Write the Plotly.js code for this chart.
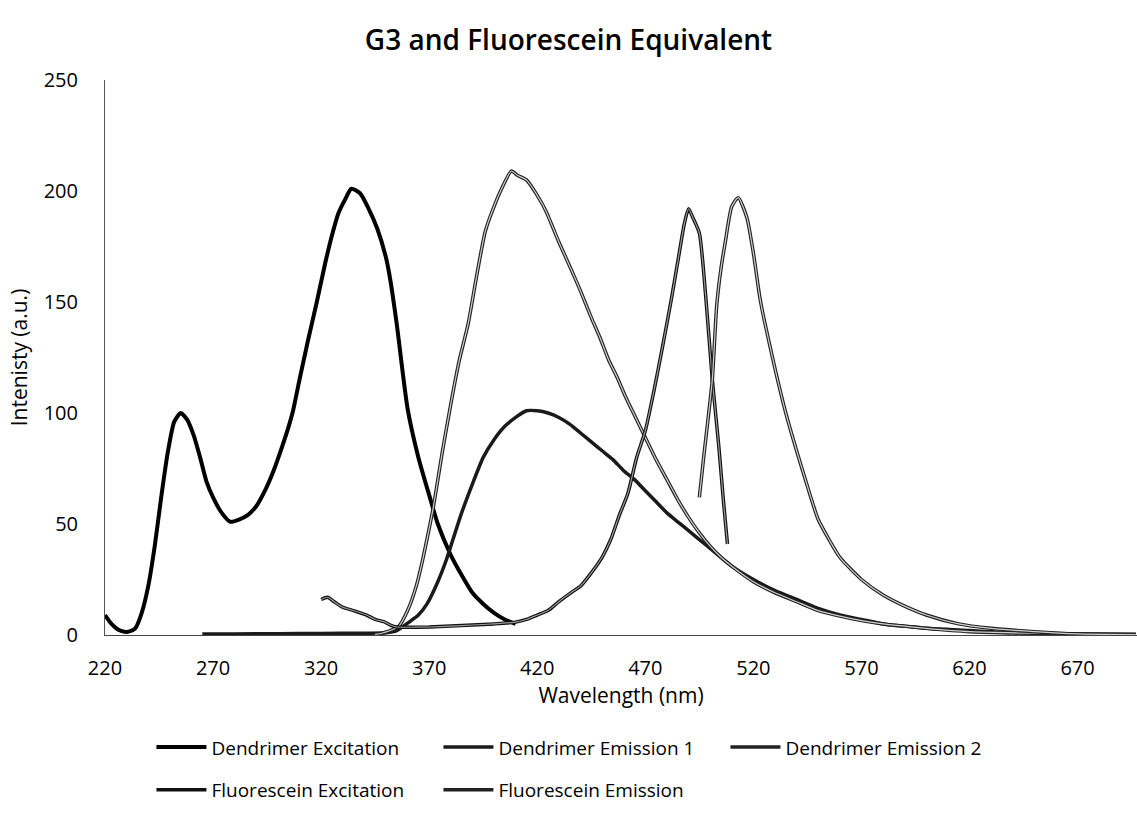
<!DOCTYPE html>
<html>
<head>
<meta charset="utf-8">
<script src="https://cdn.plot.ly/plotly-3.0.1.min.js"></script>
<style>html,body{margin:0;padding:0;background:#fff;}#chart{width:1137px;height:829px;}</style>
</head>
<body>
<div id="chart"></div>
<script>
// Dendrimer Excitation
const dexX = [220,223,226,229,231,234,237,240,243,246,249,252,255,258,261,264,267,270,274,278,282,286,290,294,298,302,305,307,310,314,318,322,325,328,331,334,338,342,346,350,352,355,360,365,370,374,380,385,390,395,400,405,410];
const dexY = [9,5,2.5,1.5,1.5,3,10,22,40,62,82,96,100,97,90,80,69,62,55,51,52,54,58,65,74,85,94,101,115,133,150,168,180,190,196,201,199,192,183,170,160,140,102,80,63,50,36,27,19,14,10,7,5];
// Dendrimer Emission 1
const dem1X = [265,280,300,320,340,350,355,361,365,369,374,378,380,385,390,395,400,405,410,415,420,425,430,435,440,445,450,455,460,465,470,475,480,485,490,495,500,505,510,520,530,540,550,560,570,580,590,600,620,640,670,697];
const dem1Y = [0.5,0.5,0.6,0.7,0.8,1,2,6,9,14,24,34,40,55,68,80,88,94,98,101,101,100,98,95,91,87,83,79,74,70,65,60,55,51,47,43,39,35,31,25,20,16,12,9,7,5,4,3,2,1,0.5,0.2];
// Dendrimer Emission 2
const dem2X = [345,348,352,356,360,364,367,370,372,376,380,384,388,392,396,400,404,408,411,415,420,424,430,436,440,445,449,453,457,461,465,470,475,480,485,490,495,500,505,510,520,530,540,550,560,570,580,590,600,620,640,670,697];
const dem2Y = [0.3,0.8,2,4,11,22,34,48,58,82,104,124,140,162,182,193,202,209,207,205,198,191,177,164,155,143,134,124,116,107,99,89,79,70,61,53,46,40,35,31,24,19,15,11,8.5,6.5,5,4,3,1.5,1,0.5,0.2];
// Fluorescein Excitation
const fexX = [320,323,326,330,335,341,345,349,352,355,360,370,380,390,400,410,415,420,425,430,437,440,445,450,454,458,462,466,470,474,478,482,485,488,490,492,495,498,501,504,506,508];
const fexY = [16,17,15,12.5,11,9,7,6,4.5,3.6,3.5,3.6,4,4.5,5,5.8,7,9,11,15,20,22,28,35,43,54,64,80,92,110,130,151,168,185,192,188,181,152,115,85,62,41];
// Fluorescein Emission
const femX = [495,497,499,501,503,505,507,510,513,517,520,523,525,530,535,540,545,550,555,560,570,580,590,600,615,630,650,670,697];
const femY = [62,80,97,115,148,165,177,193,197,188,172,152,142,120,100,83,67,52,43,35,25,18,13,9,5,3,1.5,0.5,0.2];

const xTicks = [220,270,320,370,420,470,520,570,620,670];
const yTicks = [0,50,100,150,200,250];

const F = '"Open Sans", "Liberation Sans", sans-serif';
const LS = {shape:'spline', smoothing:0.6};

function outlined(name, x, y, dark, light, wDark, wLight, leg) {
  return [
    {type:'scatter', mode:'lines', name:name, x:x, y:y, legend:leg,
     line:Object.assign({color:dark, width:wDark}, LS), showlegend:true},
    {type:'scatter', mode:'lines', name:name, x:x, y:y, legend:leg,
     line:Object.assign({color:light, width:wLight}, LS), showlegend:false, hoverinfo:'skip'}
  ];
}

const traces = [
  {type:'scatter', mode:'lines', name:'Dendrimer Excitation', x:dexX, y:dexY, legend:'legend',
   line:Object.assign({color:'#000', width:4}, LS)},
  {type:'scatter', mode:'lines', name:'Dendrimer Emission 1', x:dem1X, y:dem1Y, legend:'legend',
   line:Object.assign({color:'#1a1a1a', width:3.5}, LS)},
  ...outlined('Dendrimer Emission 2', dem2X, dem2Y, '#222', '#cfcfcf', 3.5, 1.2, 'legend'),
  ...outlined('Fluorescein Excitation', fexX, fexY, '#111', '#999', 3.5, 1.2, 'legend2'),
  ...outlined('Fluorescein Emission', femX, femY, '#222', '#cfcfcf', 3.5, 1.2, 'legend2')
];

const legBase = {orientation:'h', xanchor:'left', yanchor:'top', font:{size:19, family:F, color:'#000'},
  entrywidth:222, entrywidthmode:'pixels', itemwidth:50, bgcolor:'rgba(0,0,0,0)', traceorder:'normal'};

const layout = {
  width:1137, height:829,
  paper_bgcolor:'#fff', plot_bgcolor:'#fff',
  margin:{l:105, r:0, t:80, b:194},
  font:{family:F, color:'#000', size:18},
  title:{text:'G3 and Fluorescein Equivalent', font:{family:F, size:28, color:'#000', weight:600},
         xref:'container', x:0.5, xanchor:'center', yref:'container', y:0.952, yanchor:'middle'},
  xaxis:{range:[220,697.5], tickmode:'array', tickvals:xTicks, ticktext:xTicks.map(String),
         showgrid:false, zeroline:false, showline:true, linecolor:'#444', linewidth:1,
         ticks:'', ticklabelstandoff:15, tickfont:{size:20},
         title:{text:'Wavelength (nm)', font:{size:21}, standoff:4}},
  yaxis:{range:[0,250], tickmode:'array', tickvals:yTicks, ticktext:yTicks.map(String),
         showgrid:false, zeroline:false, showline:true, linecolor:'#555', linewidth:1,
         ticks:'', ticklabelstandoff:22, tickfont:{size:20},
         title:{text:'Intenisty (a.u.)', font:{size:21}, standoff:10}},
  showlegend:true,
  legend:Object.assign({}, legBase, {x:0.045, y:-0.168}),
  legend2:Object.assign({}, legBase, {x:0.045, y:-0.245})
};

Plotly.newPlot('chart', traces, layout, {displayModeBar:false, staticPlot:true});
</script>
</body>
</html>
